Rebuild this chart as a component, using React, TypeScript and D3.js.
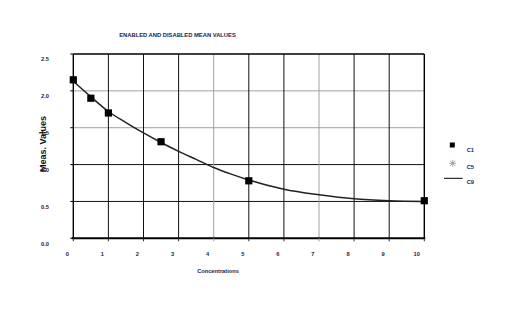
import React from "react";
import * as d3 from "d3";

const xTicks = [0, 1, 2, 3, 4, 5, 6, 7, 8, 9, 10];
const yTicks = [0, 0.5, 1.0, 1.5, 2.0, 2.5];
const yTickLabels = ["0.0", "0.5", "1.0", "1.5", "2.0", "2.5"];
const grayX = [4, 7];
const grayY = [1.5, 2.0];

const c1X = [0, 0.5, 1, 2.5, 5, 10];
const c1Y = [2.15, 1.9, 1.7, 1.31, 0.78, 0.51];

const fitX = [0, 0.5, 1, 1.5, 2, 2.5, 3, 3.5, 4, 4.5, 5, 6, 7, 8, 9, 10];
const fitY = [2.13, 1.92, 1.72, 1.57, 1.43, 1.3, 1.18, 1.07, 0.96, 0.87, 0.79, 0.665, 0.59, 0.535, 0.51, 0.5];

const legendItems = ["C1", "C5", "C9"];

const TXT = "#1a1a4d";
const FONT = "'Liberation Sans', Arial, sans-serif";

export default function App() {
  const x = d3.scaleLinear().domain([0, 10]).range([73.3, 424.3]);
  const y = d3.scaleLinear().domain([0, 2.5]).range([238.3, 54]);
  const line = d3
    .line<number>()
    .x((_, i) => x(fitX[i]))
    .y((d) => y(d))
    .curve(d3.curveMonotoneX);

  return (
    <svg
      width={510}
      height={328}
      style={{ position: "absolute", left: 0, top: 0, background: "#fff" }}
      fontFamily={FONT}
    >
      <rect width={510} height={328} fill="#fff" />
      <text x={177.5} y={36.5} fontSize={5.8} fontWeight="bold" fill={TXT} textAnchor="middle">
        ENABLED AND DISABLED MEAN VALUES
      </text>

      {/* horizontal gridlines */}
      {yTicks.slice(1, 5).map((v) => (
        <line
          key={"h" + v}
          x1={x(0)}
          x2={x(10)}
          y1={y(v)}
          y2={y(v)}
          stroke={grayY.includes(v) ? "#a0a0a0" : "#111"}
          strokeWidth={1}
        />
      ))}
      {/* vertical gridlines */}
      {xTicks.slice(1, 10).map((v) => (
        <line
          key={"v" + v}
          x1={x(v)}
          x2={x(v)}
          y1={y(0)}
          y2={y(2.5)}
          stroke={grayX.includes(v) ? "#a0a0a0" : "#111"}
          strokeWidth={1}
        />
      ))}
      {/* frame */}
      <line x1={x(0)} x2={x(10)} y1={y(2.5)} y2={y(2.5)} stroke="#000" strokeWidth={1.6} />
      <line x1={x(0)} x2={x(0)} y1={y(0)} y2={y(2.5)} stroke="#000" strokeWidth={1.4} />
      <line x1={x(10)} x2={x(10)} y1={y(0)} y2={y(2.5)} stroke="#000" strokeWidth={1.4} />
      <line x1={x(0) - 1.5} x2={x(10) + 1} y1={y(0)} y2={y(0)} stroke="#000" strokeWidth={2} />

      {/* ticks */}
      {yTicks.map((v) => (
        <line key={"yt" + v} x1={x(0) - 3} x2={x(0)} y1={y(v)} y2={y(v)} stroke="#000" strokeWidth={1} />
      ))}
      {xTicks.map((v) => (
        <line
          key={"xt" + v}
          x1={x(v)}
          x2={x(v)}
          y1={y(0)}
          y2={y(0) + 3}
          stroke={grayX.includes(v) ? "#a0a0a0" : "#333"}
          strokeWidth={1}
        />
      ))}

      {/* tick labels */}
      {yTicks.map((v, i) => (
        <text key={"yl" + v} x={45} y={y(v) + 7.3} fontSize={5.7} fontWeight="bold" fill={TXT} textAnchor="middle">
          {yTickLabels[i]}
        </text>
      ))}
      {xTicks.map((v) => (
        <text key={"xl" + v} x={x(v) - 4.5} y={255.5} fontSize={5.7} fontWeight="bold" fill={TXT} textAnchor="end">
          {String(v)}
        </text>
      ))}

      <text x={218} y={272.5} fontSize={5.7} fontWeight="bold" fill={TXT} textAnchor="middle">
        Concentrations
      </text>
      <text
        transform={`translate(46,144) rotate(-90)`}
        fontSize={9}
        fontWeight="bold"
        fill="#111"
        textAnchor="middle"
      >
        Meas. Values
      </text>

      {/* fit curve */}
      <path d={line(fitY) || ""} fill="none" stroke="#222" strokeWidth={1.5} />

      {/* C1 markers */}
      {c1X.map((v, i) => (
        <rect key={"m" + i} x={x(v) - 3.6} y={y(c1Y[i]) - 3.6} width={7.2} height={7.2} fill="#000" />
      ))}

      {/* legend */}
      <rect x={449.8} y={142.5} width={5} height={5} fill="#000" />
      <g stroke="#999" strokeWidth={0.9}>
        <line x1={452.7 - 3.5} x2={452.7 + 3.5} y1={163.3} y2={163.3} />
        <line x1={452.7} x2={452.7} y1={163.3 - 3.5} y2={163.3 + 3.5} />
        <line x1={452.7 - 2.6} x2={452.7 + 2.6} y1={163.3 - 2.6} y2={163.3 + 2.6} />
        <line x1={452.7 - 2.6} x2={452.7 + 2.6} y1={163.3 + 2.6} y2={163.3 - 2.6} />
      </g>
      <line x1={444} x2={462.7} y1={178.3} y2={178.3} stroke="#000" strokeWidth={1} />
      {legendItems.map((t, i) => (
        <text key={t} x={466.7} y={[152.3, 169, 184][i]} fontSize={5.7} fontWeight="bold" fill={TXT}>
          {t}
        </text>
      ))}
    </svg>
  );
}
